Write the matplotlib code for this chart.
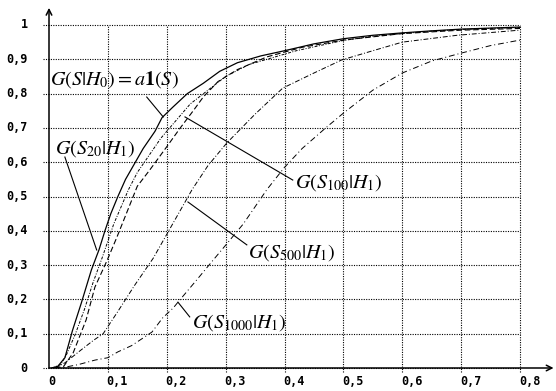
import matplotlib
matplotlib.use("Agg")
import matplotlib.pyplot as plt

plt.rcParams['mathtext.fontset'] = 'stix'

# curves
h0_x = [0.005, 0.015, 0.027, 0.04, 0.055, 0.072, 0.085, 0.095, 0.105, 0.117, 0.13, 0.14, 0.16, 0.18, 0.192,
        0.21, 0.235, 0.262, 0.29, 0.32, 0.36, 0.4, 0.45, 0.5, 0.55, 0.6, 0.65, 0.7, 0.75, 0.8]
h0_y = [0, 0.005, 0.03, 0.11, 0.19, 0.286, 0.345, 0.40, 0.45, 0.50, 0.55, 0.58, 0.64, 0.69, 0.73,
        0.76, 0.80, 0.83, 0.865, 0.89, 0.91, 0.925, 0.945, 0.96, 0.97, 0.977, 0.983, 0.988, 0.991, 0.994]

s20_x = [0.005, 0.02, 0.03, 0.045, 0.06, 0.075, 0.09, 0.1, 0.11, 0.12, 0.135, 0.15, 0.17, 0.19, 0.21,
         0.24, 0.27, 0.3, 0.34, 0.38, 0.42, 0.46, 0.5, 0.55, 0.6, 0.65, 0.7, 0.75, 0.8]
s20_y = [0, 0.01, 0.04, 0.1, 0.17, 0.25, 0.32, 0.37, 0.42, 0.46, 0.52, 0.57, 0.62, 0.67, 0.71,
         0.77, 0.81, 0.85, 0.885, 0.905, 0.925, 0.94, 0.955, 0.967, 0.975, 0.982, 0.987, 0.99, 0.993]

s100_x = [0.01, 0.025, 0.041, 0.063, 0.078, 0.099, 0.115, 0.129, 0.15, 0.171, 0.2, 0.223, 0.245, 0.262,
          0.287, 0.32, 0.37, 0.43, 0.5, 0.6, 0.7, 0.8]
s100_y = [0, 0.005, 0.044, 0.14, 0.236, 0.315, 0.38, 0.44, 0.53, 0.577, 0.645, 0.70, 0.75, 0.79,
          0.835, 0.87, 0.907, 0.935, 0.956, 0.975, 0.985, 0.99]

s500_x = [0.01, 0.027, 0.054, 0.075, 0.092, 0.117, 0.145, 0.177, 0.21, 0.243, 0.27, 0.302, 0.35, 0.397,
          0.45, 0.497, 0.55, 0.6, 0.693, 0.8]
s500_y = [0, 0.015, 0.052, 0.08, 0.10, 0.165, 0.24, 0.32, 0.42, 0.52, 0.59, 0.656, 0.74, 0.816,
          0.86, 0.898, 0.925, 0.95, 0.97, 0.985]

s1000_x = [0.01, 0.02, 0.05, 0.078, 0.1, 0.117, 0.14, 0.155, 0.175, 0.193, 0.211, 0.222, 0.25, 0.28, 0.3,
           0.33, 0.37, 0.4, 0.43, 0.47, 0.5, 0.55, 0.6, 0.65, 0.7, 0.75, 0.8]
s1000_y = [0, 0.0, 0.01, 0.023, 0.03, 0.047, 0.065, 0.082, 0.105, 0.146, 0.175, 0.198, 0.255, 0.317, 0.358,
           0.42, 0.52, 0.585, 0.64, 0.70, 0.743, 0.81, 0.86, 0.895, 0.918, 0.94, 0.956]

x_ticks = [0, 0.1, 0.2, 0.3, 0.4, 0.5, 0.6, 0.7, 0.8]
x_labels = ["0", "0,1", "0,2", "0,3", "0,4", "0,5", "0,6", "0,7", "0,8"]
y_ticks = [0, 0.1, 0.2, 0.3, 0.4, 0.5, 0.6, 0.7, 0.8, 0.9, 1]
y_labels = ["0", "0,1", "0,2", "0,3", "0,4", "0,5", "0,6", "0,7", "0,8", "0,9", "1"]

fig = plt.figure(figsize=(5.56, 3.91), dpi=100)
ax = fig.add_axes([49 / 556, 23 / 391, 507 / 556, 368 / 391])
ax.set_xlim(0, 507 / 588.75)
ax.set_ylim(0, 368 / 343)
ax.axis('off')

# grid
for xv in x_ticks[1:]:
    ax.plot([xv, xv], [-0.012, 1], color='black', ls=(0, (1, 1.2)), lw=0.8, clip_on=False)
for yv in y_ticks:
    ax.plot([-0.01, 0.8], [yv, yv], color='black', ls=(0, (1, 1.2)), lw=0.8, clip_on=False)

# axes with arrows
ax.annotate('', xy=(0, 1.05), xytext=(0, 0), annotation_clip=False,
            arrowprops=dict(arrowstyle='->', lw=1.1, color='black', shrinkA=0, shrinkB=0))
ax.annotate('', xy=(0.857, 0), xytext=(0, 0), annotation_clip=False,
            arrowprops=dict(arrowstyle='->', lw=1.1, color='black', shrinkA=0, shrinkB=0))

# curves
ax.plot(h0_x, h0_y, color='black', lw=0.9)
ax.plot(s20_x, s20_y, color='black', lw=0.7, ls=(0, (3, 1.5, 1, 1.5)))
ax.plot(s100_x, s100_y, color='black', lw=0.8, ls=(0, (5, 2.5)))
ax.plot(s500_x, s500_y, color='black', lw=0.7, ls=(0, (5, 2, 1, 2)))
ax.plot(s1000_x, s1000_y, color='black', lw=0.7, ls=(0, (6, 3, 1, 3)))

# tick labels
for xv, lab in zip(x_ticks, x_labels):
    ax.text(xv - 0.002, -0.038, lab, ha='left', va='center', fontsize=8.5,
            family='DejaVu Sans Mono', weight='bold')
for yv, lab in zip(y_ticks, y_labels):
    ax.text(-0.036, yv, lab, ha='right', va='center', fontsize=8.5,
            family='DejaVu Sans Mono', weight='bold')

# curve labels and pointers
fs = 14.5
ax.text(0.002, 0.84, r'$G(S|H_0) = a\mathbf{1}(S)$', fontsize=fs, ha='left', va='center')
ax.plot([0.166, 0.194], [0.79, 0.732], color='black', lw=0.8)

ax.text(0.01, 0.641, r'$G(S_{20}|H_1)$', fontsize=fs, ha='left', va='center')
ax.plot([0.027, 0.081], [0.615, 0.344], color='black', lw=0.8)

ax.text(0.418, 0.54, r'$G(S_{100}|H_1)$', fontsize=fs, ha='left', va='center')
ax.plot([0.231, 0.414], [0.732, 0.548], color='black', lw=0.8)

ax.text(0.338, 0.338, r'$G(S_{500}|H_1)$', fontsize=fs, ha='left', va='center')
ax.plot([0.236, 0.336], [0.484, 0.359], color='black', lw=0.8)

ax.text(0.243, 0.134, r'$G(S_{1000}|H_1)$', fontsize=fs, ha='left', va='center')
ax.plot([0.219, 0.239], [0.192, 0.149], color='black', lw=0.8)

fig.savefig('out.png', dpi=100)
